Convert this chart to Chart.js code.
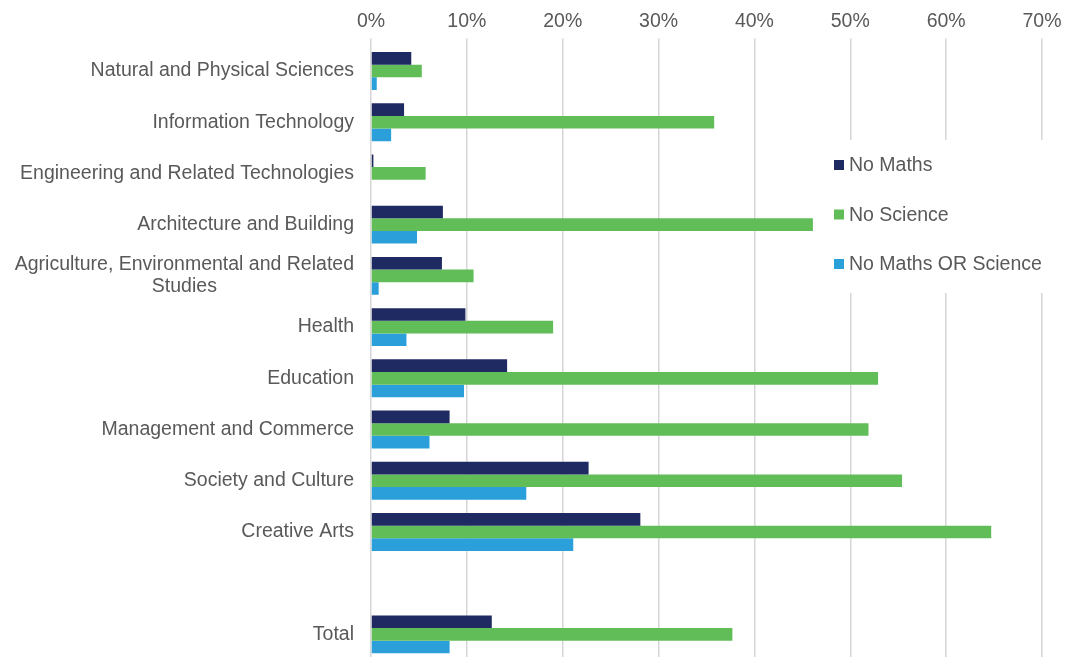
<!DOCTYPE html>
<html>
  <head>
   <meta charset='utf-8'>
   <title>No Maths / No Science by field of study</title>
   <script src="https://cdn.jsdelivr.net/npm/chart.js@4/dist/chart.umd.min.js"></script>
   <style>
     html, body { margin: 0; padding: 0; overflow: hidden; background: #fff; }
     #wrap { position: relative; width: 1069px; height: 660px; }
   </style>
  </head>
  <body>
    <div id="wrap">
      <canvas id="chart_fields"></canvas>
    </div>
    <script>
      var fields = [
        'Natural and Physical Sciences',
        'Information Technology',
        'Engineering and Related Technologies',
        'Architecture and Building',
        ['Agriculture, Environmental and Related', 'Studies'],
        'Health',
        'Education',
        'Management and Commerce',
        'Society and Culture',
        'Creative Arts',
        '',
        'Total'
      ];
      var no_maths   = [4.2, 3.45, 0.25, 7.5, 7.4, 9.85, 14.2, 8.2, 22.7, 28.1, null, 12.6];
      var no_science = [5.3, 35.8, 5.7, 46.1, 10.7, 19.0, 52.9, 51.9, 55.4, 64.7, null, 37.7];
      var no_both    = [0.6, 2.1, 0, 4.8, 0.8, 3.7, 9.7, 6.1, 16.2, 21.1, null, 8.2];
      var x_ticks    = [0, 10, 20, 30, 40, 50, 60, 70];

      var font_family = '"Liberation Sans", Arial, sans-serif';
      var text_grey = '#595959';

      // y labels drawn by hand: Excel right-aligns single lines, centres wrapped ones
      var fieldLabels = {
        id: 'fieldLabels',
        afterDraw: function(chart) {
          var ctx = chart.ctx;
          var yScale = chart.scales.y;
          var right = chart.chartArea.left - 17;
          ctx.save();
          ctx.font = '19.5px ' + font_family;
          ctx.fillStyle = text_grey;
          ctx.textBaseline = 'middle';
          fields.forEach(function(lbl, i) {
            var y = yScale.getPixelForTick(i);
            if (Array.isArray(lbl)) {
              var cx = right - ctx.measureText(lbl[0]).width / 2;
              ctx.textAlign = 'center';
              lbl.forEach(function(line, j) {
                ctx.fillText(line, cx, y + (j - (lbl.length - 1) / 2) * 22);
              });
            } else {
              ctx.textAlign = 'right';
              ctx.fillText(lbl, right, y);
            }
          });
          ctx.restore();
        }
      };

      // legend sits inside the plot on a white patch, like the Excel one
      var boxLegend = {
        id: 'boxLegend',
        afterDraw: function(chart, args, opts) {
          var ctx = chart.ctx;
          ctx.save();
          ctx.fillStyle = '#fff';
          ctx.fillRect(opts.x, opts.y, opts.w, opts.h);
          ctx.font = '19.5px ' + font_family;
          ctx.textBaseline = 'middle';
          ctx.textAlign = 'left';
          chart.data.datasets.forEach(function(ds, i) {
            var cy = opts.firstY + i * opts.gap;
            ctx.fillStyle = ds.backgroundColor;
            ctx.fillRect(opts.x + 6, cy - 5, 10, 10);
            ctx.fillStyle = text_grey;
            ctx.fillText(ds.label, opts.x + 21, cy + 1);
          });
          ctx.restore();
        }
      };

      var ctx_fields = document.getElementById('chart_fields').getContext('2d');
      var chart_fields = new Chart(ctx_fields, {
        type: 'bar',
        data: {
          labels: fields,
          datasets: [
            {label: 'No Maths', data: no_maths, backgroundColor: '#1f2a63'},
            {label: 'No Science', data: no_science, backgroundColor: '#61bd58'},
            {label: 'No Maths OR Science', data: no_both, backgroundColor: '#2a9fda'}
          ]
        },
        options: {
          indexAxis: 'y',
          responsive: true,
          maintainAspectRatio: false,
          animation: false,
          layout: {padding: {top: 5, right: 27, bottom: 0, left: 0}},
          datasets: {bar: {categoryPercentage: 0.74, barPercentage: 1.0}},
          scales: {
            x: {
              position: 'top',
              min: 0,
              max: 70,
              afterBuildTicks: function(scale) {
                scale.ticks = x_ticks.map(function(v) { return {value: v}; });
              },
              border: {display: false},
              grid: {color: '#d6d6d6', lineWidth: 1.5, tickLength: 7},
              ticks: {
                padding: 5,
                color: text_grey,
                font: {family: font_family, size: 19.5},
                callback: function(v) { return v + '%'; }
              }
            },
            y: {
              border: {display: false},
              grid: {display: false},
              ticks: {display: false},
              afterFit: function(scale) { scale.width = 371; }
            }
          },
          plugins: {
            legend: {display: false},
            tooltip: {enabled: false},
            boxLegend: {x: 828, y: 140, w: 230, h: 153, firstY: 165, gap: 49.5}
          }
        },
        plugins: [fieldLabels, boxLegend]
      });
    </script>
  </body>
</html>
